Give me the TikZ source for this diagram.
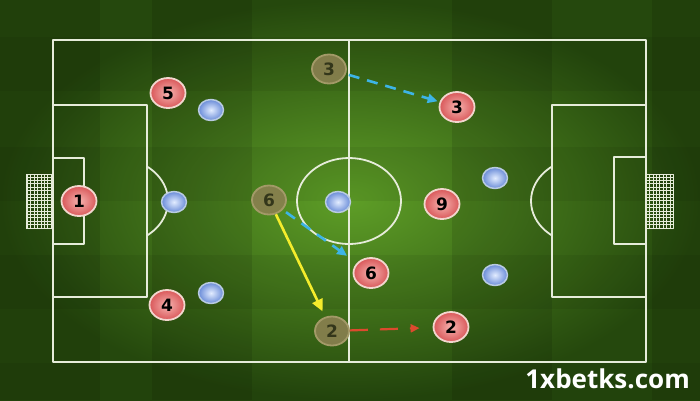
\documentclass[tikz,border=0pt]{standalone}
\usepackage{fontspec}
\newfontfamily\numfont{DejaVu Sans}
\newfontfamily\markfont{Open Sans}
\usetikzlibrary{arrows.meta,shapes.geometric}

\definecolor{grassdark}{HTML}{25480D}
\definecolor{grasslight}{HTML}{5E9E27}
\definecolor{chalk}{HTML}{E6ECDA}
\definecolor{passblue}{HTML}{3DB4E6}
\definecolor{runyellow}{HTML}{F4EC2C}
\definecolor{runred}{HTML}{DC4A2E}
\definecolor{playerring}{HTML}{F2D6CE}
\definecolor{playerin}{HTML}{F6B4B0}
\definecolor{playerout}{HTML}{D9585A}
\definecolor{ghostfill}{HTML}{8A8050}
\definecolor{ghostring}{HTML}{A39A68}
\definecolor{ghosttext}{HTML}{33361A}
\definecolor{ballin}{HTML}{E2ECFF}
\definecolor{ballout}{HTML}{6A8CD8}
\definecolor{ballring}{HTML}{B9CBE2}

\tikzset{
  pitchline/.style={draw=chalk, line width=1.8pt},
  redplayer/.style={ellipse, minimum width=35pt, minimum height=30pt, inner sep=0pt,
    draw=playerring, line width=1.8pt, inner color=playerin, outer color=playerout,
    font=\numfont\bfseries\fontsize{17}{17}\selectfont, text=black},
  ghostplayer/.style={ellipse, minimum width=34pt, minimum height=29pt, inner sep=0pt,
    draw=ghostring, line width=1.8pt, fill=ghostfill, fill opacity=.9, text opacity=1,
    font=\numfont\bfseries\fontsize{17}{17}\selectfont, text=ghosttext},
  blueball/.style={ellipse, minimum width=25pt, minimum height=21pt, inner sep=0pt,
    draw=ballring, line width=1.5pt, inner color=ballin, outer color=ballout},
  dashpass/.style={passblue, line width=2.6pt, dash pattern=on 11pt off 8pt,
    -{Triangle[length=10pt,width=9pt]}},
}

\begin{document}
\begin{tikzpicture}[x=1pt, y=-1pt, line cap=butt, line join=round]
  \useasboundingbox (0,0) rectangle (700,400);

  % --- grass: vignette plus mown squares ---
  \fill[inner color=grasslight, outer color=grassdark] (0,0) rectangle (700,400);
  \foreach \x in {0,152,452,652}
    \fill[black, opacity=.10] (\x,0) rectangle ++(100,400);
  \foreach \y in {37,147,255,363}
    \fill[black, opacity=.06] (0,\y) rectangle ++(700,54);

  % --- pitch markings ---
  \draw[pitchline] (53,40) rectangle (646,362);
  \draw[pitchline] (349,40) -- (349,362);
  \draw[pitchline] (349,201) ellipse [x radius=52pt, y radius=43pt];

  % left end
  \draw[pitchline] (53,105) rectangle (147,297);
  \draw[pitchline] (53,158) rectangle (84,244);
  \begin{scope}
    \clip (147,0) rectangle (260,400);
    \draw[pitchline] (116,201) ellipse [x radius=52pt, y radius=43pt];
  \end{scope}
  \draw[chalk, line width=.4pt, step=3.4pt] (26,174) grid (53,228);
  \draw[chalk, line width=1pt] (26,174) rectangle (53,228);

  % right end
  \draw[pitchline] (552,105) rectangle (646,297);
  \draw[pitchline] (614,157) rectangle (646,244);
  \begin{scope}
    \clip (440,0) rectangle (552,400);
    \draw[pitchline] (583,201) ellipse [x radius=52pt, y radius=43pt];
  \end{scope}
  \draw[chalk, line width=.4pt, step=3.4pt] (646,174) grid (673,228);
  \draw[chalk, line width=1pt] (646,174) rectangle (673,228);

  % --- opponents (blue) ---
  \node[blueball] (b1) at (211,110) {};
  \node[blueball] (b2) at (174,202) {};
  \node[blueball] (b3) at (211,293) {};
  \node[blueball] (b4) at (338,202) {};
  \node[blueball] (b5) at (495,178) {};
  \node[blueball] (b6) at (495,275) {};

  % --- starting spots (faded) ---
  \node[ghostplayer] (f3) at (329,69) {3};
  \node[ghostplayer] (f6) at (269,200) {6};
  \node[ghostplayer] (f2) at (332,331) {2};

  % --- team (red) ---
  \node[redplayer] (r1) at (79,201) {1};
  \node[redplayer] (r5) at (168,93) {5};
  \node[redplayer] (r4) at (167,305) {4};
  \node[redplayer] (r3) at (457,107) {3};
  \node[redplayer] (r9) at (442,204) {9};
  \node[redplayer] (r6) at (371,273) {6};
  \node[redplayer] (r2) at (451,327) {2};

  % --- runs and passes ---
  \draw[dashpass, shorten <=3pt, shorten >=2pt] (f3) -- (r3);
  \draw[dashpass, shorten <=4pt, shorten >=12pt] (f6) -- (r6);
  \draw[runyellow, line width=2.6pt, shorten >=6pt,
    -{Triangle[length=12pt,width=11pt]}] (f6) -- (f2);
  \draw[runred, line width=2.2pt, dash pattern=on 18pt off 12pt, shorten >=13pt,
    -{Triangle[length=9pt,width=8pt]}] (f2) -- (r2);

  % --- watermark ---
  \node[anchor=base east, inner sep=0pt, text=white,
    font=\markfont\bfseries\fontsize{26}{26}\selectfont] (site) at (690,388) {1xbetks.com};

\end{tikzpicture}
\end{document}
